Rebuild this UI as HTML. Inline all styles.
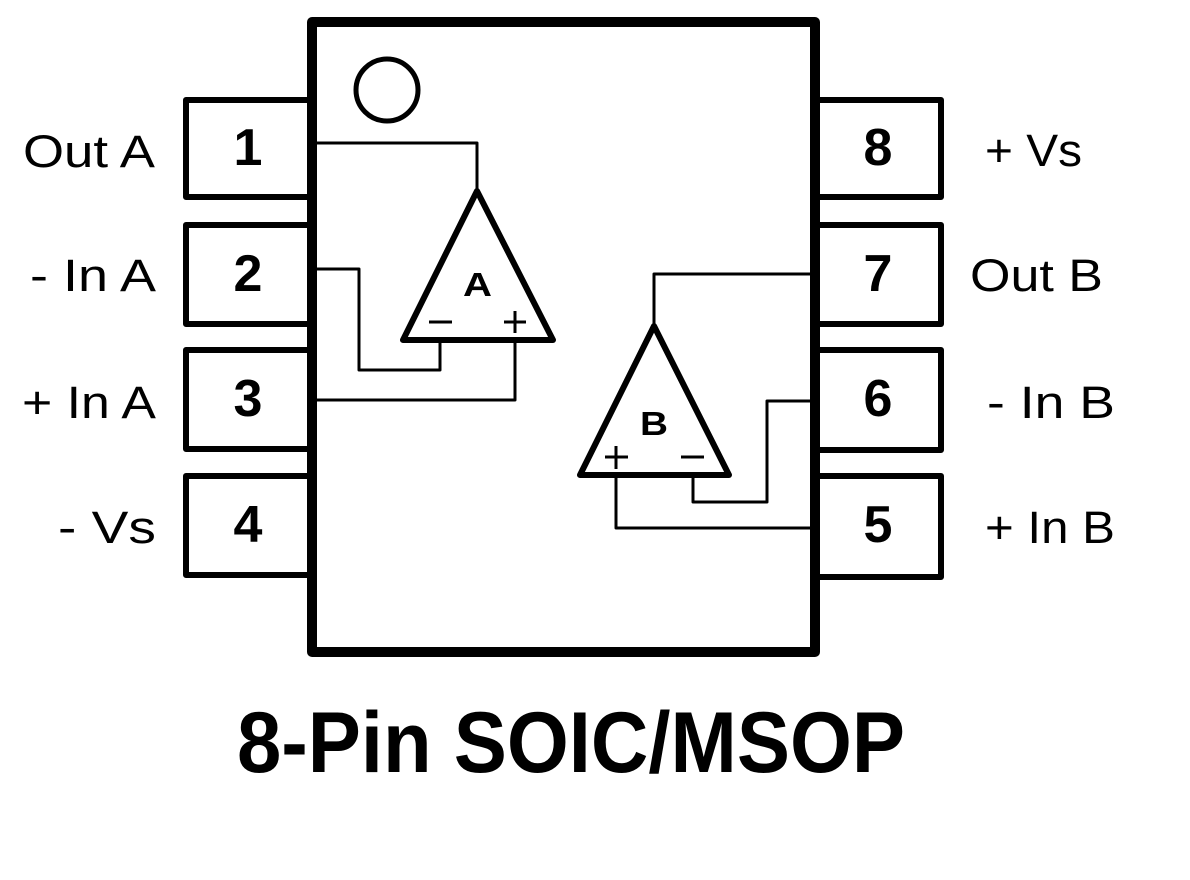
<!DOCTYPE html>
<html><head><meta charset="utf-8"><style>
html,body{margin:0;padding:0;background:#fff;}
svg{display:block;}
text{font-family:"Liberation Sans",Arial,sans-serif;fill:#000;}
</style></head><body>
<svg width="1190" height="880" viewBox="0 0 1190 880" xmlns="http://www.w3.org/2000/svg">
<g fill="none" stroke="#000" stroke-linejoin="round">
  <!-- left pins -->
  <g stroke-width="6">
    <path d="M312 100 H186 V197 H312"/>
    <path d="M312 225 H186 V324 H312"/>
    <path d="M312 350 H186 V449 H312"/>
    <path d="M312 476 H186 V575 H312"/>
    <path d="M815 100 H941 V197 H815"/>
    <path d="M815 225 H941 V324 H815"/>
    <path d="M815 350 H941 V450 H815"/>
    <path d="M815 476 H941 V577 H815"/>
  </g>
  <rect x="312" y="22" width="503" height="630" stroke-width="10"/>
  <circle cx="387" cy="90" r="31" stroke-width="5"/>
  <!-- amp A -->
  <polygon points="477,191 403,340 553,340" stroke-width="6"/>
  <g stroke-width="3">
    <path d="M477 191 V143 H317"/>
    <path d="M440 340 V370 H359 V269 H317"/>
    <path d="M515 340 V400 H317"/>
    <path d="M429 322 H452"/>
    <path d="M504 322 H526 M515 311 V333"/>
  </g>
  <!-- amp B -->
  <polygon points="654,326 580,475 729,475" stroke-width="6"/>
  <g stroke-width="3">
    <path d="M654 326 V274 H810"/>
    <path d="M693 475 V502 H767 V401 H810"/>
    <path d="M616 475 V528 H810"/>
    <path d="M605 457 H628 M616 446 V469"/>
    <path d="M681 457 H704"/>
  </g>
</g>
<g font-size="45">
  <text x="23" y="167" textLength="132" lengthAdjust="spacingAndGlyphs">Out A</text>
  <text x="30" y="291" textLength="126" lengthAdjust="spacingAndGlyphs">- In A</text>
  <text x="22" y="418" textLength="134" lengthAdjust="spacingAndGlyphs">+ In A</text>
  <text x="58" y="543" textLength="98" lengthAdjust="spacingAndGlyphs">- Vs</text>
  <text x="985" y="166" textLength="97" lengthAdjust="spacingAndGlyphs">+ Vs</text>
  <text x="970" y="291" textLength="133" lengthAdjust="spacingAndGlyphs">Out B</text>
  <text x="987" y="418" textLength="128" lengthAdjust="spacingAndGlyphs">- In B</text>
  <text x="985" y="543" textLength="130" lengthAdjust="spacingAndGlyphs">+ In B</text>
</g>
<g font-size="52" font-weight="bold" text-anchor="middle">
  <text x="248" y="165">1</text>
  <text x="248" y="291">2</text>
  <text x="248" y="416">3</text>
  <text x="248" y="542">4</text>
  <text x="878" y="165">8</text>
  <text x="878" y="291">7</text>
  <text x="878" y="416">6</text>
  <text x="878" y="542">5</text>
</g>
<text x="463" y="296" font-size="33" font-weight="bold" textLength="29" lengthAdjust="spacingAndGlyphs">A</text>
<text x="640" y="435" font-size="33" font-weight="bold" textLength="28" lengthAdjust="spacingAndGlyphs">B</text>
<text x="237" y="772" font-size="86" font-weight="bold" textLength="668" lengthAdjust="spacingAndGlyphs">8-Pin SOIC/MSOP</text>
</svg>
</body></html>
